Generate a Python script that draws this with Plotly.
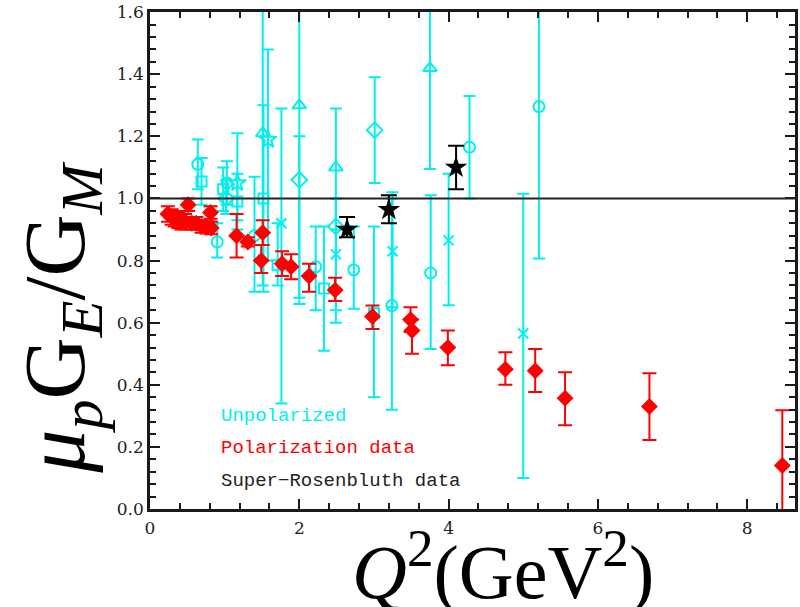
import plotly.graph_objects as go

# ---------------- data ----------------
# Polarization data (red diamonds): Q2, ratio, lower bound, upper bound
pol_q2 = [0.24, 0.29, 0.33, 0.38, 0.42, 0.47, 0.51, 0.56, 0.62, 0.69, 0.76, 0.81, 0.82,
          1.16, 1.31, 1.51, 1.49, 1.77, 1.89, 2.13, 2.48, 2.98, 3.49, 3.51, 3.99,
          4.76, 5.16, 5.56, 6.69, 8.47]
pol_r = [0.95, 0.94, 0.935, 0.93, 0.925, 0.925, 0.98, 0.92, 0.92, 0.91, 0.907, 0.955, 0.905,
         0.88, 0.86, 0.89, 0.80, 0.79, 0.78, 0.75, 0.705, 0.62, 0.61, 0.575, 0.52,
         0.45, 0.445, 0.357, 0.33, 0.14]
pol_lo = [0.925, 0.915, 0.91, 0.905, 0.90, 0.90, 0.96, 0.90, 0.90, 0.89, 0.887, 0.935, 0.885,
          0.81, 0.845, 0.85, 0.76, 0.75, 0.74, 0.70, 0.67, 0.58, 0.57, 0.50, 0.463,
          0.40, 0.377, 0.27, 0.222, -0.05]
pol_hi = [0.975, 0.965, 0.96, 0.955, 0.95, 0.95, 1.0, 0.94, 0.94, 0.93, 0.927, 0.975, 0.925,
          0.95, 0.875, 0.93, 0.85, 0.83, 0.82, 0.79, 0.745, 0.655, 0.65, 0.61, 0.575,
          0.505, 0.515, 0.44, 0.437, 0.318]

# Super-Rosenbluth data (black stars)
sr_q2 = [2.64, 3.20, 4.10]
sr_r = [0.90, 0.964, 1.10]
sr_lo = [0.875, 0.92, 1.03]
sr_hi = [0.94, 1.01, 1.17]

# Unpolarized (Rosenbluth) data, cyan, grouped by marker symbol
unp_circle_q2 = [0.64, 0.90, 1.03, 1.40, 2.22, 2.73, 3.24, 3.76, 4.28, 5.21]
unp_circle_r = [1.11, 0.86, 1.05, 0.88, 0.78, 0.77, 0.655, 0.76, 1.165, 1.296]
unp_circle_lo = [1.03, 0.81, 0.98, 0.70, 0.64, 0.645, 0.32, 0.515, 1.00, 0.807]
unp_circle_hi = [1.19, 0.92, 1.12, 1.07, 0.91, 0.91, 1.00, 1.01, 1.33, 1.75]

unp_square_q2 = [0.69, 0.98, 1.17, 1.52, 1.71, 2.33, 3.00]
unp_square_r = [1.055, 1.03, 0.99, 1.00, 0.785, 0.71, 0.63]
unp_square_lo = [0.98, 0.96, 0.90, 0.70, 0.72, 0.51, 0.36]
unp_square_hi = [1.13, 1.10, 1.08, 1.30, 0.92, 0.91, 0.91]

unp_tri_q2 = [1.51, 2.00, 2.49, 3.75]
unp_tri_r = [1.21, 1.30, 1.10, 1.42]
unp_tri_lo = [0.72, 0.66, 0.90, 1.095]
unp_tri_hi = [1.75, 1.75, 1.29, 1.75]

unp_diam_q2 = [1.02, 2.00, 2.49, 3.01]
unp_diam_r = [1.00, 1.06, 0.91, 1.22]
unp_diam_lo = [0.95, 0.68, 0.64, 1.05]
unp_diam_hi = [1.06, 1.20, 1.00, 1.39]

unp_star_q2 = [1.17, 1.58]
unp_star_r = [1.05, 1.19]
unp_star_lo = [0.93, 0.80]
unp_star_hi = [1.21, 1.48]

unp_x_q2 = [1.76, 2.49, 3.25, 4.00, 5.00]
unp_x_r = [0.92, 0.82, 0.83, 0.865, 0.565]
unp_x_lo = [0.34, 0.60, 0.65, 0.656, 0.10]
unp_x_hi = [1.29, 1.00, 1.02, 1.08, 1.015]

x_ticks = [0, 2, 4, 6, 8]
y_ticks = [0.0, 0.2, 0.4, 0.6, 0.8, 1.0, 1.2, 1.4, 1.6]
y_ticktext = ["0.0", "0.2", "0.4", "0.6", "0.8", "1.0", "1.2", "1.4", "1.6"]

CYAN = "#00F0F0"
RED = "#FF0000"
BLACK = "#000000"
AXIS = "#1a1a1a"


def errs(v, lo, hi):
    plus = [h - c for c, h in zip(v, hi)]
    minus = [c - l for c, l in zip(v, lo)]
    return plus, minus


fig = go.Figure()

unp_sets = [
    (unp_circle_q2, unp_circle_r, unp_circle_lo, unp_circle_hi, "circle-open", 11),
    (unp_square_q2, unp_square_r, unp_square_lo, unp_square_hi, "square-open", 10),
    (unp_tri_q2, unp_tri_r, unp_tri_lo, unp_tri_hi, "triangle-up-open", 12),
    (unp_diam_q2, unp_diam_r, unp_diam_lo, unp_diam_hi, "diamond-open", 12),
    (unp_star_q2, unp_star_r, unp_star_lo, unp_star_hi, "star-open", 13),
    (unp_x_q2, unp_x_r, unp_x_lo, unp_x_hi, "x-thin-open", 10),
]
for q, r, lo, hi, sym, sz in unp_sets:
    p, m = errs(r, lo, hi)
    fig.add_trace(go.Scatter(
        x=q, y=r, mode="markers",
        marker=dict(symbol=sym, size=sz, color=CYAN, line=dict(color=CYAN, width=2)),
        error_y=dict(type="data", symmetric=False, array=p, arrayminus=m,
                     color=CYAN, thickness=2, width=6),
        showlegend=False, cliponaxis=True))

p, m = errs(pol_r, pol_lo, pol_hi)
fig.add_trace(go.Scatter(
    x=pol_q2, y=pol_r, mode="markers",
    marker=dict(symbol="diamond", size=13, color=RED, line=dict(width=0)),
    error_y=dict(type="data", symmetric=False, array=p, arrayminus=m,
                 color=RED, thickness=2, width=7),
    showlegend=False, cliponaxis=True))

p, m = errs(sr_r, sr_lo, sr_hi)
fig.add_trace(go.Scatter(
    x=sr_q2, y=sr_r, mode="markers",
    marker=dict(symbol="star", size=17, color=BLACK, line=dict(width=0)),
    error_y=dict(type="data", symmetric=False, array=p, arrayminus=m,
                 color=BLACK, thickness=2, width=8),
    showlegend=False, cliponaxis=True))

fig.add_hline(y=1.0, line=dict(color="#222222", width=2))

tickfont = dict(family="DejaVu Serif", size=17, color="#222222")
fig.update_xaxes(
    range=[0, 8.64], tickvals=x_ticks, ticktext=[str(v) for v in x_ticks],
    ticks="inside", ticklen=10, tickwidth=2, tickcolor=AXIS,
    minor=dict(dtick=0.4, tick0=0, ticks="inside", ticklen=6, tickwidth=1.5, tickcolor=AXIS),
    showline=True, linecolor=AXIS, linewidth=2.5, mirror="ticks",
    showgrid=False, zeroline=False, tickfont=tickfont, ticklabelstandoff=2)
fig.update_yaxes(
    range=[0, 1.6005], tickvals=y_ticks, ticktext=y_ticktext,
    ticks="inside", ticklen=10, tickwidth=2, tickcolor=AXIS,
    minor=dict(dtick=0.04, tick0=0, ticks="inside", ticklen=6, tickwidth=1.5, tickcolor=AXIS),
    showline=True, linecolor=AXIS, linewidth=2.5, mirror="ticks",
    showgrid=False, zeroline=False, tickfont=tickfont)

legend_items = [("Unpolarized", CYAN, 0.30), ("Polarization data", RED, 0.195),
                ("Super\u2212Rosenbluth data", "#222222", 0.09)]
for txt, col, yy in legend_items:
    fig.add_annotation(x=0.93, y=yy, xref="x", yref="y", text=txt, showarrow=False,
                       xanchor="left", yanchor="middle",
                       font=dict(family="Liberation Mono", size=19, color=col))

fig.add_annotation(x=-0.138, y=0.385, xref="paper", yref="paper", textangle=-90,
                   text="<i>μ</i><sub><i>p</i></sub>G<sub><i>E</i></sub>/G<sub><i>M</i></sub>",
                   showarrow=False, xanchor="center", yanchor="middle",
                   font=dict(family="Liberation Serif", size=86, color="#000000"))
fig.add_annotation(x=0.548, y=-0.117, xref="paper", yref="paper",
                   text="<i>Q</i><sup>2</sup>(GeV<sup>2</sup>)",
                   showarrow=False, xanchor="center", yanchor="middle",
                   font=dict(family="Liberation Serif", size=76, color="#000000"))

fig.update_layout(
    width=800, height=607,
    margin=dict(l=150, r=2, t=10, b=98),
    paper_bgcolor="white", plot_bgcolor="white",
    showlegend=False)

fig.write_html("out.html", config={"displayModeBar": False},
               post_script="document.body.style.margin='0';document.body.style.padding='0';")
